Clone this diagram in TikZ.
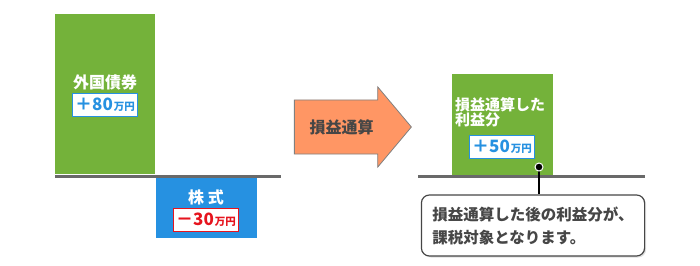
\documentclass[tikz,border=0pt]{standalone}
\usepackage{fontspec}
\setmainfont{Noto Sans CJK JP}
\usepackage{tikz}
\usetikzlibrary{
  arrows.meta,
  shapes.arrows,
  positioning,
  shadows
}
\usepackage{xcolor}
\definecolor{cgreen}{RGB}{116,178,58}
\definecolor{cblue}{RGB}{38,145,225}
\definecolor{corange}{RGB}{255,150,100}
\definecolor{cred}{RGB}{230,20,30}
\definecolor{cline}{RGB}{105,105,105}
\definecolor{cgray}{RGB}{128,128,128}
\definecolor{cdark}{RGB}{70,70,70}
\newcommand\manyen[1]{#1\kern1pt{\fontsize{10.5}{10}\selectfont 万円}}
\tikzset{
  bar/.style={
    rectangle, fill=cgreen, draw=none,
    anchor=north west, inner sep=0pt
  },
  barB/.style={
    bar, fill=cblue
  },
  barlabel/.style={
    text=white, inner sep=0pt,
    font=\fontsize{16}{17}\selectfont\bfseries
  },
  amount/.style={
    rectangle, fill=white, draw=#1, line width=1pt, text=#1,
    minimum width=65pt, minimum height=23pt, inner sep=0pt,
    font=\fontsize{17}{17}\selectfont\bfseries
  },
  amount/.default=cblue,
  base/.style={line width=3pt, color=cline},
  calc/.style={
    single arrow, fill=corange, draw=cgray, line width=0.8pt,
    minimum height=117pt,
    single arrow head extend=13pt, single arrow tip angle=100,
    inner xsep=0pt, inner ysep=19pt, text=cdark,
    font=\fontsize{16}{17}\selectfont\bfseries
  },
  dot/.style={
    circle, fill=black, draw=white, line width=1pt,
    minimum size=8pt, inner sep=0pt
  },
  stem/.style={draw=white, line width=0.8pt, double=black, double distance=1.3pt},
  note/.style={
    rectangle, rounded corners=8pt,
    fill=white, draw=cdark, line width=1.2pt,
    drop shadow={opacity=0.25, shadow xshift=1.5pt, shadow yshift=-1.5pt},
    minimum width=218pt, minimum height=61pt,
    inner xsep=11pt, align=left, text=cdark,
    font=\fontsize{15.5}{23}\selectfont\bfseries
  }
}
\begin{document}
\begin{tikzpicture}[x=1pt, y=-1pt]
    \useasboundingbox (0,0) rectangle (700,265);

    %% ---- LEFT: before netting -----------------------------------
    \node[bar,  minimum width=100pt, minimum height=160pt] (bond)  at (55,14)  {};
    \node[barB, minimum width=101pt, minimum height=61pt]  (stock) at (156,177) {};
    \draw[base] (55,176) -- (281,176);

    \node[barlabel] (bondname) at (105,82) {外国債券};
    \node[amount, below=3pt of bondname] (bondamt) {\manyen{＋80}};

    \node[barlabel] (stockname) at (206,197) {株 式};
    \node[amount=cred, below=3pt of stockname] (stockamt) {\manyen{－30}};

    %% ---- Arrow -----------------------------------------------------
    \node[calc] (netting) at (341.5,127) {損益通算};

    %% ---- RIGHT: after netting ---------------------------------------
    \node[bar, minimum width=101pt, minimum height=101pt] (net) at (452,74) {};
    \draw[base] (418,176) -- (645,176);

    \node[barlabel, align=left, anchor=west,
          font=\fontsize{15}{15}\selectfont\bfseries] (netname) at (455,112)
      {損益通算した\\利益分};
    \node[amount, below right=8pt and 14pt of netname.south west] (netamt) {\manyen{＋50}};

    \node[note] (memo) at (533,225.5)
      {損益通算した後の利益分が、\\課税対象となります。};
    \coordinate (pin) at (539,167);
    \draw[stem] (pin) -- (pin |- memo.north);
    \node[dot] at (pin) {};

  \end{tikzpicture}
\end{document}
